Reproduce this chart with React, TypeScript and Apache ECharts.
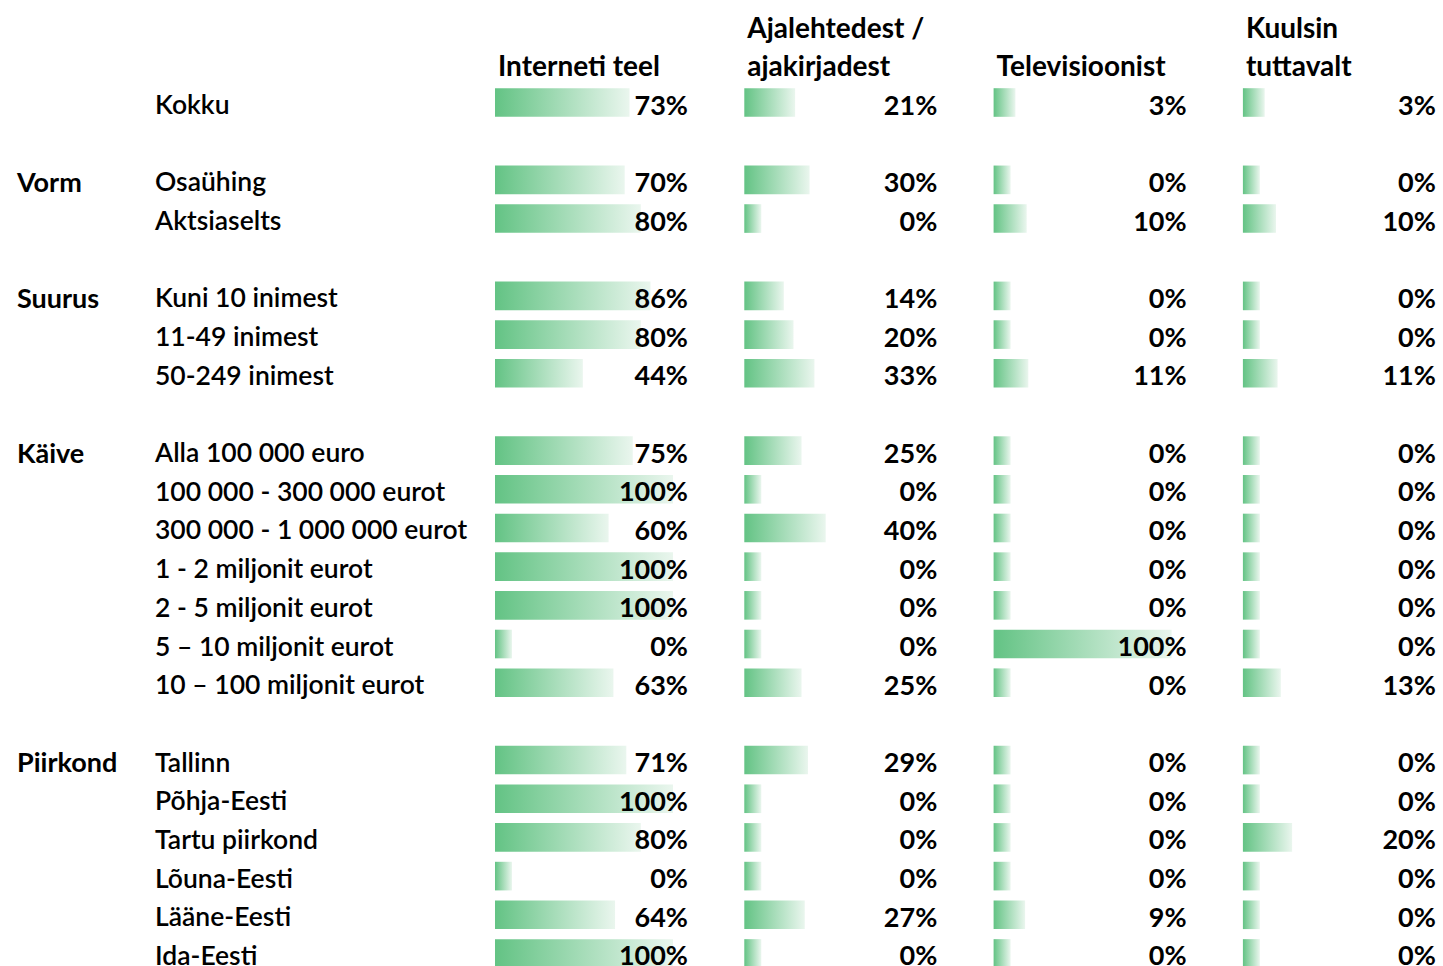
import React, { useEffect, useRef } from "react";
import * as echarts from "echarts";

// ---------- data ----------
const HEADERS: string[][] = [
  ["", "Interneti teel"],
  ["Ajalehtedest /", "ajakirjadest"],
  ["", "Televisioonist"],
  ["Kuulsin", "tuttavalt"],
];

const ROWS: string[] = [
  "Kokku", "",
  "Osaühing", "Aktsiaselts", "",
  "Kuni 10 inimest", "11-49 inimest", "50-249 inimest", "",
  "Alla 100 000 euro", "100 000 - 300 000 eurot", "300 000 - 1 000 000 eurot",
  "1 - 2 miljonit eurot", "2 - 5 miljonit eurot", "5 – 10 miljonit eurot", "10 – 100 miljonit eurot", "",
  "Tallinn", "Põhja-Eesti", "Tartu piirkond", "Lõuna-Eesti", "Lääne-Eesti", "Ida-Eesti",
];

const GROUPS: string[] = [
  "", "",
  "Vorm", "", "",
  "Suurus", "", "", "",
  "Käive", "", "", "", "", "", "", "",
  "Piirkond", "", "", "", "", "",
];

const INTERNET: (number | null)[] = [73, null, 70, 80, null, 86, 80, 44, null, 75, 100, 60, 100, 100, 0, 63, null, 71, 100, 80, 0, 64, 100];
const NEWSPAPERS: (number | null)[] = [21, null, 30, 0, null, 14, 20, 33, null, 25, 0, 40, 0, 0, 0, 25, null, 29, 0, 0, 0, 27, 0];
const TELEVISION: (number | null)[] = [3, null, 0, 10, null, 0, 0, 11, null, 0, 0, 0, 0, 0, 100, 0, null, 0, 0, 0, 0, 9, 0];
const ACQUAINTANCE: (number | null)[] = [3, null, 0, 10, null, 0, 0, 11, null, 0, 0, 0, 0, 0, 0, 13, null, 0, 0, 20, 0, 0, 0];

const SERIES_DATA = [INTERNET, NEWSPAPERS, TELEVISION, ACQUAINTANCE];

// ---------- layout ----------
const W = 1443;
const H = 966;
const CHART_H = 1010;
const COL_START = 495;
const COL_STEP = 249.3;
const COL_WIDTH = 193; // bar start to right edge of value text
const PX_PER_PCT = 1.61;
const MIN_BAR_PX = 17;
const ROW_H = 38.68;
const FIRST_ROW_Y = 104;
const FONT = "Lato, 'Open Sans', sans-serif";
const FS = 27;

export default function App() {
  const ref = useRef<HTMLDivElement>(null);

  useEffect(() => {
    if (!ref.current) return;
    const chart = echarts.init(ref.current, undefined, { renderer: "svg" });

    const minPct = MIN_BAR_PX / PX_PER_PCT;
    const maxPct = COL_WIDTH / PX_PER_PCT - minPct;
    const gridTop = FIRST_ROW_Y - ROW_H / 2;
    const gridHeight = ROWS.length * ROW_H;

    const grids: any[] = [];
    const xAxes: any[] = [];
    const yAxes: any[] = [];
    const series: any[] = [];

    SERIES_DATA.forEach((arr, i) => {
      const left = COL_START + i * COL_STEP;
      grids.push({ left, top: gridTop, width: COL_WIDTH, height: gridHeight, containLabel: false });
      xAxes.push({
        type: "value",
        gridIndex: i,
        min: -minPct,
        max: maxPct,
        show: false,
      });
      const yBase = {
        type: "category",
        gridIndex: i,
        inverse: true,
        data: ROWS,
        axisLine: { show: false },
        axisTick: { show: false },
        splitLine: { show: false },
      };
      if (i === 0) {
        yAxes.push({
          ...yBase,
          position: "left",
          axisLabel: {
            show: true,
            interval: 0,
            align: "left",
            margin: COL_START - 155,
            fontFamily: FONT,
            fontSize: 26.5,
            fontWeight: 600,
            color: "#000",
          },
        });
        yAxes.push({
          ...yBase,
          data: GROUPS,
          position: "left",
          offset: 0,
          axisLabel: {
            show: true,
            interval: 0,
            align: "left",
            margin: COL_START - 17,
            fontFamily: FONT,
            fontSize: FS,
            fontWeight: "bold",
            color: "#000",
          },
        });
      } else {
        yAxes.push({ ...yBase, axisLabel: { show: false } });
      }
      const data = arr
        .map((v, idx) => (v == null ? null : [v, idx]))
        .filter((d) => d != null);
      series.push({
        type: "custom",
        xAxisIndex: i,
        yAxisIndex: i === 0 ? 0 : i + 1,
        encode: { x: 0, y: 1 },
        data,
        renderItem: (params: any, api: any) => {
          const v = api.value(0);
          const row = api.value(1);
          const end = api.coord([v, row]);
          const cs = params.coordSys;
          const bh = api.size([0, 1])[1] * 0.74;
          const x0 = cs.x;
          return {
            type: "group",
            children: [
              {
                type: "rect",
                shape: { x: x0, y: end[1] - bh / 2 - 1.5, width: end[0] - x0, height: bh },
                style: {
                  fill: new echarts.graphic.LinearGradient(0, 0, 1, 0, [
                    { offset: 0, color: "#63c384" },
                    { offset: 1, color: "#eaf6ee" },
                  ]),
                },
              },
              {
                type: "text",
                style: {
                  text: `${v}%`,
                  x: cs.x + cs.width,
                  y: end[1],
                  align: "right",
                  verticalAlign: "middle",
                  fontFamily: FONT,
                  fontSize: FS,
                  fontWeight: "bold",
                  fill: "#000",
                },
              },
            ],
          };
        },
      });
    });

    const headerGraphics: any[] = [];
    HEADERS.forEach((lines, i) => {
      lines.forEach((t, li) => {
        if (!t) return;
        headerGraphics.push({
          type: "text",
          x: COL_START + i * COL_STEP + 3,
          y: FIRST_ROW_Y - ROW_H * (2 - li),
          style: {
            text: t,
            align: "left",
            verticalAlign: "middle",
            fontFamily: FONT,
            fontSize: 28,
            fontWeight: "bold",
            fill: "#000",
          },
        });
      });
    });

    chart.setOption({
      animation: false,
      backgroundColor: "#fff",
      grid: grids,
      xAxis: xAxes,
      yAxis: yAxes,
      series,
      graphic: headerGraphics,
    });

    return () => chart.dispose();
  }, []);

  return (
    <div
      style={{
        position: "absolute",
        left: 0,
        top: 0,
        width: W,
        height: H,
        overflow: "hidden",
        background: "#fff",
      }}
    >
      <div ref={ref} style={{ width: W, height: CHART_H }} />
    </div>
  );
}
